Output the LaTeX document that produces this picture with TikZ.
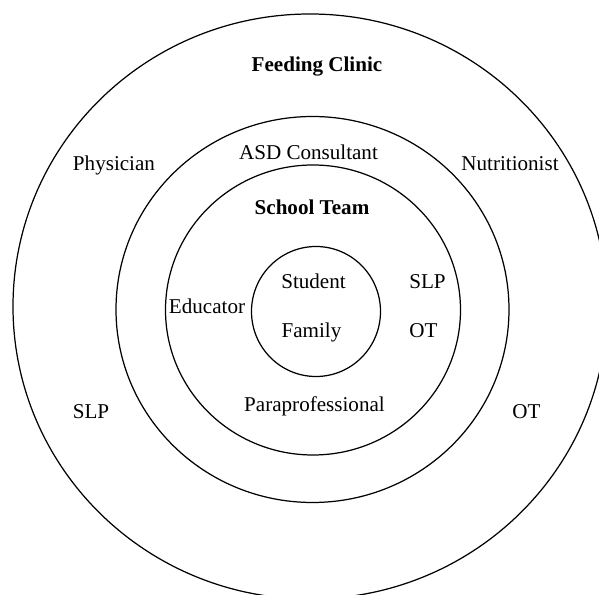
\documentclass[tikz,border=0pt]{standalone}
\usepackage{fontspec}
\setmainfont{Liberation Serif}
\usepackage{tikz}

\begin{document}
\begin{tikzpicture}[x=1cm,y=1cm,font=\fontsize{12}{14}\selectfont,
                    role/.style={inner sep=0pt, anchor=base},
                    team/.style={inner sep=0pt, anchor=base, font=\fontsize{12}{14}\selectfont\bfseries},
                    ring/.style={black, line width=0.7pt}]

  \useasboundingbox (-6.26,-5.70) rectangle (5.72,6.20);

  % rings, outermost first
  \draw[ring] (-0.06,0.07) ellipse [x radius=5.94, y radius=5.85];
  \draw[ring] (-0.01,0.01) ellipse [x radius=3.93, y radius=3.86];
  \draw[ring] (0,0)        ellipse [x radius=2.95, y radius=2.90];
  \draw[ring] (0.06,-0.03) ellipse [x radius=1.29, y radius=1.30];

  % feeding clinic ring
  \node[team] (clinic) at (0.08,4.76) {Feeding Clinic};
  \node[role] (phys)   at (-3.98,2.79) {Physician};
  \node[role] (nutr)   at (3.94,2.79)  {Nutritionist};
  \node[role] (slpout) at (-4.44,-2.17) {SLP};
  \node[role] (otout)  at (4.27,-2.17)  {OT};

  % consultant ring
  \node[role] (asd) at (-0.09,3.01) {ASD Consultant};

  % school team ring
  \node[team] (school) at (-0.02,1.90)  {School Team};
  \node[role] (edu)    at (-2.12,-0.07) {Educator};
  \node[role] (slpin)  at (2.29,0.43)   {SLP};
  \node[role] (otin)   at (2.21,-0.55)  {OT};
  \node[role] (para)   at (0.03,-2.04)  {Paraprofessional};

  % centre
  \node[role] (stud) at (0.01,0.43)   {Student};
  \node[role] (fam)  at (-0.03,-0.55) {Family};
\end{tikzpicture}
\end{document}
